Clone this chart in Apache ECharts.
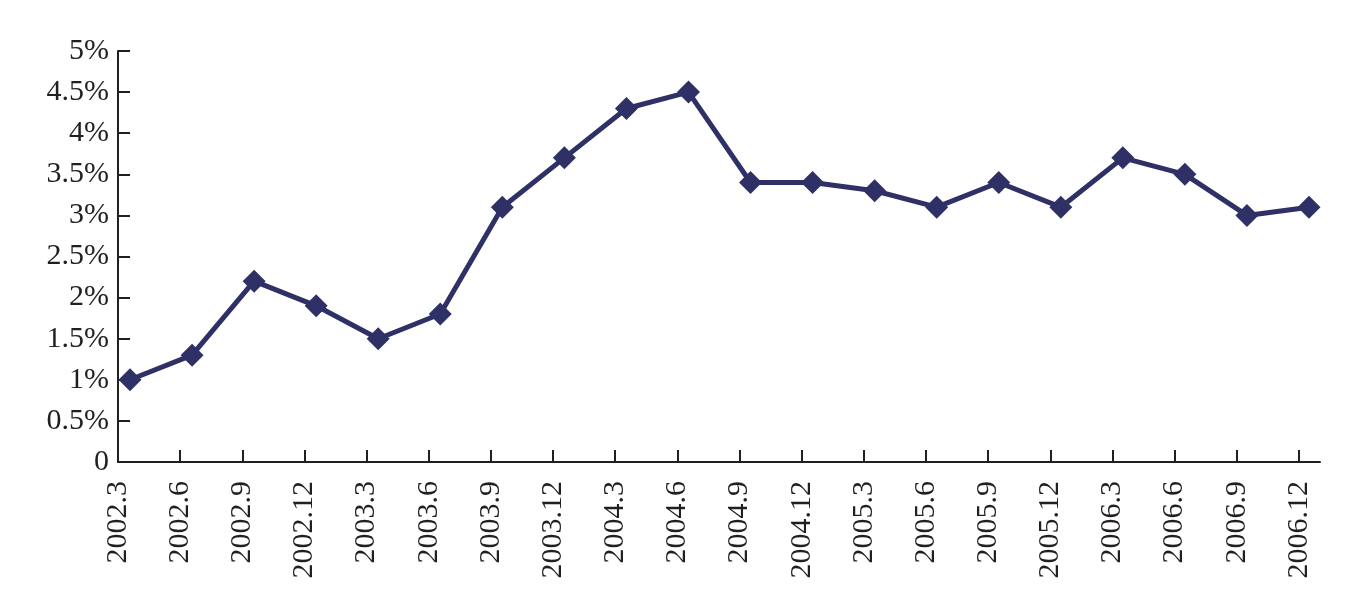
<!DOCTYPE html>
<html>
<head>
<meta charset="utf-8">
<script src="https://cdn.jsdelivr.net/npm/echarts@6/dist/echarts.min.js"></script>
<style>
  html, body { margin: 0; padding: 0; background: #fff; }
  #main { width: 1372px; height: 602px; }
</style>
</head>
<body>
<div id="main"></div>
<script>
// 季度
var quarters = ['2002.3', '2002.6', '2002.9', '2002.12', '2003.3', '2003.6', '2003.9', '2003.12',
  '2004.3', '2004.6', '2004.9', '2004.12', '2005.3', '2005.6', '2005.9', '2005.12',
  '2006.3', '2006.6', '2006.9', '2006.12'];
// 比率 (%)
var rates = [1.0, 1.3, 2.2, 1.9, 1.5, 1.8, 3.1, 3.7, 4.3, 4.5, 3.4, 3.4, 3.3, 3.1, 3.4, 3.1, 3.7, 3.5, 3.0, 3.1];
var tickIdx = quarters.map(function (q, i) { return i; });

var font = 'Liberation Serif';
var ink = '#231f20';
var lineColor = '#2f3066';

var chart = echarts.init(document.getElementById('main'));
var option = {
  backgroundColor: '#fff',
  animation: false,
  grid: [
    { left: 118, right: 52, top: 51, bottom: 140 },
    { left: 130, right: 63, top: 51, bottom: 140 }
  ],
  xAxis: [
    {
      gridIndex: 0,
      type: 'value',
      min: 0,
      max: 19.34,
      splitLine: { show: false },
      axisLine: { show: true, lineStyle: { color: ink, width: 2 } },
      axisTick: { show: true, inside: true, length: 12, customValues: tickIdx, lineStyle: { color: ink, width: 2 } },
      axisLabel: {
        customValues: tickIdx,
        rotate: 90,
        margin: 19,
        fontFamily: font,
        fontSize: 30,
        color: ink,
        formatter: function (v) { return quarters[Math.round(v)]; }
      }
    },
    {
      gridIndex: 1,
      type: 'category',
      boundaryGap: false,
      data: quarters,
      show: false
    }
  ],
  yAxis: [
    {
      gridIndex: 0,
      type: 'value',
      min: 0,
      max: 5,
      interval: 0.5,
      splitLine: { show: false },
      axisLine: { show: true, lineStyle: { color: ink, width: 2 } },
      axisTick: { show: true, inside: true, length: 12, lineStyle: { color: ink, width: 2 } },
      axisLabel: {
        margin: 9,
        fontFamily: font,
        fontSize: 30,
        color: ink,
        formatter: function (v) { return v === 0 ? '0' : v + '%'; }
      }
    },
    {
      gridIndex: 1,
      type: 'value',
      min: 0,
      max: 5,
      show: false
    }
  ],
  series: [{
    type: 'line',
    xAxisIndex: 1,
    yAxisIndex: 1,
    data: rates,
    symbol: 'diamond',
    symbolSize: [23, 23],
    lineStyle: { color: lineColor, width: 5 },
    itemStyle: { color: lineColor }
  }]
};
chart.setOption(option);
</script>
</body>
</html>
